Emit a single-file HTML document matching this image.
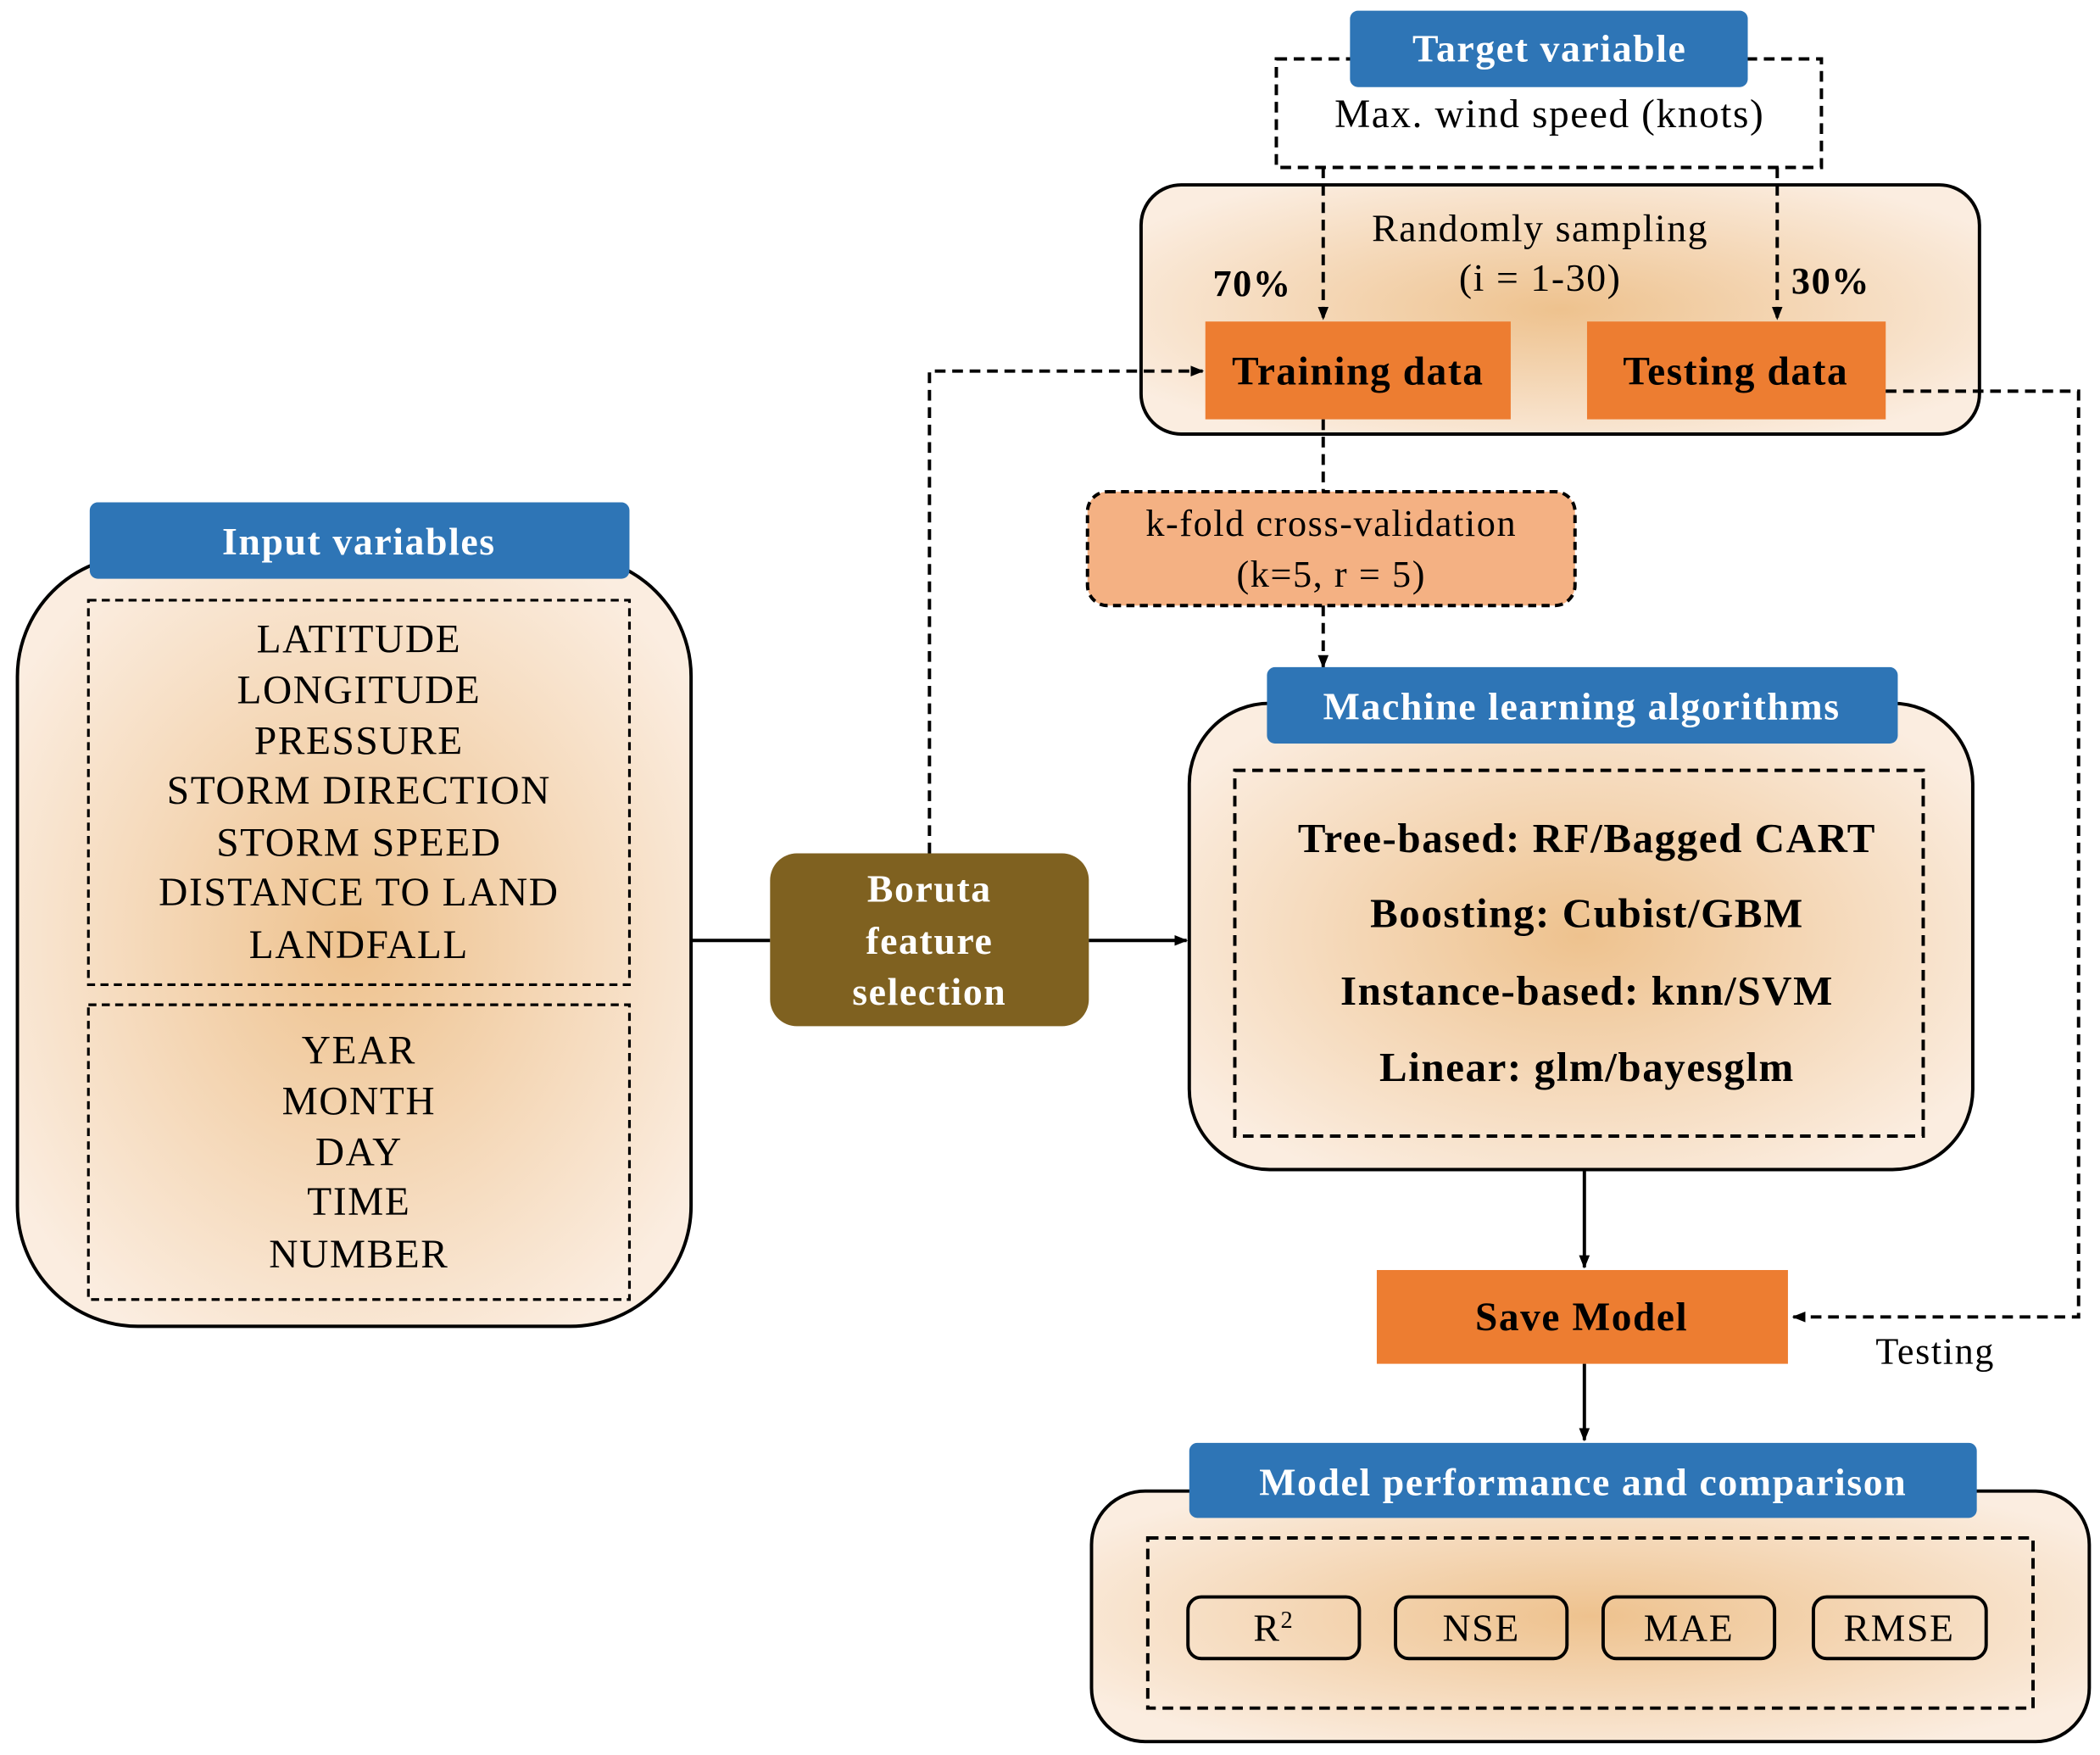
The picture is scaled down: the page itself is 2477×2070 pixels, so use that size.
<!DOCTYPE html>
<html><head><meta charset="utf-8"><style>
html,body{margin:0;padding:0;background:#fff;}
svg{display:block;}
text{font-family:"Liberation Serif",serif;letter-spacing:1px;}
</style></head><body>
<svg width="2477" height="2070" viewBox="0 0 1568 1310" preserveAspectRatio="none" xmlns="http://www.w3.org/2000/svg">
<defs>
<radialGradient id="g" cx="50%" cy="50%" r="60%">
<stop offset="0" stop-color="#eec28e"/>
<stop offset="1" stop-color="#fbede0"/>
</radialGradient>
<marker id="a" markerWidth="10" markerHeight="10" refX="9" refY="5" orient="auto" markerUnits="userSpaceOnUse">
<path d="M0,1 L10,5 L0,9 z" fill="#000"/>
</marker>
</defs>
<rect width="1568" height="1310" fill="#fff"/>

<rect x="953" y="44" width="407" height="81" fill="#fff" stroke="#000" stroke-width="2.5" stroke-dasharray="8,5"/>
<rect x="1008" y="8" width="297" height="57" rx="6" fill="#2e75b6"/>
<text x="1157" y="46" font-size="29" font-weight="bold" fill="#fff" text-anchor="middle">Target variable</text>
<text x="1157" y="95" font-size="30" text-anchor="middle" letter-spacing="2">Max. wind speed (knots)</text>

<rect x="852" y="138" width="626" height="186" rx="30" fill="url(#g)" stroke="#000" stroke-width="2.5"/>
<text x="1150" y="180" font-size="29" text-anchor="middle" letter-spacing="2">Randomly sampling</text>
<text x="1150" y="217" font-size="29" text-anchor="middle">(i = 1-30)</text>
<text x="935" y="221" font-size="28" font-weight="bold" text-anchor="middle">70%</text>
<text x="1367" y="219" font-size="28" font-weight="bold" text-anchor="middle">30%</text>
<line x1="988" y1="125" x2="988" y2="238" stroke="#000" stroke-width="2.5" stroke-dasharray="8,5" marker-end="url(#a)"/>
<line x1="1327" y1="125" x2="1327" y2="238" stroke="#000" stroke-width="2.5" stroke-dasharray="8,5" marker-end="url(#a)"/>
<rect x="900" y="240" width="228" height="73" fill="#ed7d31"/>
<text x="1014" y="287" font-size="30" font-weight="bold" text-anchor="middle">Training data</text>
<rect x="1185" y="240" width="223" height="73" fill="#ed7d31"/>
<text x="1296" y="287" font-size="30" font-weight="bold" text-anchor="middle">Testing data</text>

<polyline points="1408,292 1552,292 1552,983 1339,983" fill="none" stroke="#000" stroke-width="2.5" stroke-dasharray="8,5" marker-end="url(#a)"/>
<text x="1445" y="1018" font-size="28" text-anchor="middle">Testing</text>

<line x1="988" y1="313" x2="988" y2="367" stroke="#000" stroke-width="2.5" stroke-dasharray="8,5"/>
<rect x="812" y="367" width="364" height="85" rx="15" fill="#f4b183" stroke="#000" stroke-width="2.5" stroke-dasharray="6,4"/>
<text x="994" y="400" font-size="28" text-anchor="middle">k-fold cross-validation</text>
<text x="994" y="438" font-size="28" text-anchor="middle">(k=5, r = 5)</text>
<line x1="988" y1="452" x2="988" y2="498" stroke="#000" stroke-width="2.5" stroke-dasharray="8,5" marker-end="url(#a)"/>

<rect x="888" y="525" width="585" height="348" rx="60" fill="url(#g)" stroke="#000" stroke-width="2.5"/>
<rect x="946" y="498" width="471" height="57" rx="6" fill="#2e75b6"/>
<text x="1181" y="537" font-size="29" font-weight="bold" fill="#fff" text-anchor="middle">Machine learning algorithms</text>
<rect x="922" y="575" width="514" height="273" fill="none" stroke="#000" stroke-width="2.5" stroke-dasharray="8,5"/>
<g font-size="31" font-weight="bold" text-anchor="middle">
<text x="1185" y="636">Tree-based: RF/Bagged CART</text>
<text x="1185" y="692">Boosting: Cubist/GBM</text>
<text x="1185" y="750">Instance-based: knn/SVM</text>
<text x="1185" y="807">Linear: glm/bayesglm</text>
</g>

<line x1="1183" y1="873" x2="1183" y2="946" stroke="#000" stroke-width="2.5" marker-end="url(#a)"/>
<rect x="1028" y="948" width="307" height="70" fill="#ed7d31"/>
<text x="1181" y="993" font-size="30" font-weight="bold" text-anchor="middle">Save Model</text>
<line x1="1183" y1="1018" x2="1183" y2="1075" stroke="#000" stroke-width="2.5" marker-end="url(#a)"/>

<rect x="815" y="1113" width="745" height="187" rx="40" fill="url(#g)" stroke="#000" stroke-width="2.5"/>
<rect x="888" y="1077" width="588" height="56" rx="6" fill="#2e75b6"/>
<text x="1182" y="1116" font-size="29" font-weight="bold" fill="#fff" text-anchor="middle">Model performance and comparison</text>
<rect x="857" y="1148" width="661" height="127" fill="none" stroke="#000" stroke-width="2.5" stroke-dasharray="8,5"/>
<g fill="none" stroke="#000" stroke-width="2.5">
<rect x="887" y="1192" width="128" height="46" rx="10"/>
<rect x="1042" y="1192" width="128" height="46" rx="10"/>
<rect x="1197" y="1192" width="128" height="46" rx="10"/>
<rect x="1354" y="1192" width="129" height="46" rx="10"/>
</g>
<g font-size="29" text-anchor="middle">
<text x="951" y="1225">R<tspan font-size="18" dy="-10">2</tspan></text>
<text x="1106" y="1225">NSE</text>
<text x="1261" y="1225">MAE</text>
<text x="1418" y="1225">RMSE</text>
</g>

<rect x="13" y="415" width="503" height="575" rx="90" fill="url(#g)" stroke="#000" stroke-width="2.5"/>
<rect x="67" y="375" width="403" height="57" rx="6" fill="#2e75b6"/>
<text x="268" y="414" font-size="29" font-weight="bold" fill="#fff" text-anchor="middle">Input variables</text>
<rect x="66" y="448" width="404" height="287" fill="none" stroke="#000" stroke-width="2" stroke-dasharray="6,4"/>
<rect x="66" y="750" width="404" height="220" fill="none" stroke="#000" stroke-width="2" stroke-dasharray="6,4"/>
<g font-size="30" text-anchor="middle" letter-spacing="1.5">
<text x="268" y="487">LATITUDE</text>
<text x="268" y="525">LONGITUDE</text>
<text x="268" y="563">PRESSURE</text>
<text x="268" y="600">STORM DIRECTION</text>
<text x="268" y="639">STORM SPEED</text>
<text x="268" y="676">DISTANCE TO LAND</text>
<text x="268" y="715">LANDFALL</text>
<text x="268" y="794">YEAR</text>
<text x="268" y="832">MONTH</text>
<text x="268" y="870">DAY</text>
<text x="268" y="907">TIME</text>
<text x="268" y="946">NUMBER</text>
</g>

<line x1="516" y1="702" x2="575" y2="702" stroke="#000" stroke-width="2.5"/>
<rect x="575" y="637" width="238" height="129" rx="20" fill="#7f6120"/>
<g font-size="29" font-weight="bold" fill="#fff" text-anchor="middle">
<text x="694" y="673">Boruta</text>
<text x="694" y="712">feature</text>
<text x="694" y="750">selection</text>
</g>
<line x1="813" y1="702" x2="886" y2="702" stroke="#000" stroke-width="2.5" marker-end="url(#a)"/>
<polyline points="694,637 694,277 898,277" fill="none" stroke="#000" stroke-width="2.5" stroke-dasharray="8,5" marker-end="url(#a)"/>
</svg>
</body></html>
